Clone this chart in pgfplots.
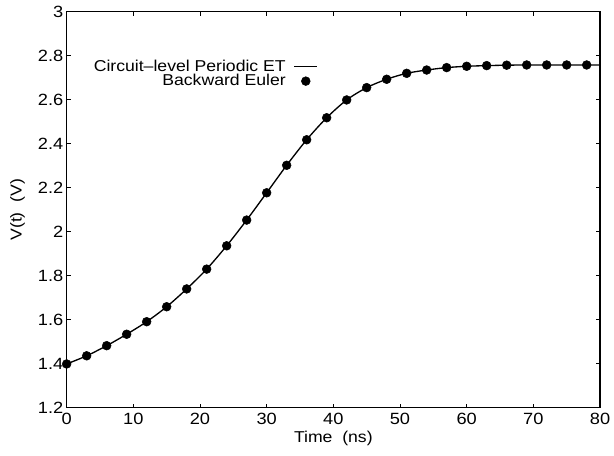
\documentclass[border=0pt]{standalone}
\usepackage{pgfplots}
\pgfplotsset{compat=1.18}
\usepackage{fontspec}
\setmainfont{Liberation Sans}[FakeStretch=1.12]
\begin{document}
\begin{tikzpicture}
\begin{axis}[
  name=ax, at={(0,0)}, anchor=south west,
  scale only axis, width=400pt, height=297pt,
  xmin=0, xmax=80, ymin=1.2, ymax=3,
  xtick={0,10,...,80}, ytick={1.2,1.4,...,3.01},
  yticklabels={1.2,1.4,1.6,1.8,2,2.2,2.4,2.6,2.8,3},
  /pgf/number format/assume math mode=true,
  tick label style={font=\fontsize{12.2}{14}\selectfont},
  label style={font=\fontsize{11.8}{13}\selectfont},
  xticklabel style={yshift=-0.5pt},
  yticklabel style={xshift=1pt},
  xlabel={Time~~(ns)}, ylabel={V(t)~~(V)},
  xlabel style={yshift=2pt}, ylabel style={yshift=3pt},
  major tick length=3pt, tick style={black, line width=0.6pt},
  axis line style={line width=0.8pt},
  legend plot pos=right,
  legend cell align=right,
  legend style={draw=none, fill=none, at={(0.479,0.893)}, anchor=north east,
    font=\fontsize{11.8}{13}\selectfont, row sep=-3pt, column sep=4pt},
]
\addplot[black, line width=1pt, smooth] coordinates {
(0,1.399)(3,1.436)(6,1.482)(9,1.534)(12,1.591)(15,1.659)(18,1.740)(21,1.830)(24,1.936)(27,2.053)(30,2.177)(33,2.302)(36,2.418)(39,2.518)(42,2.599)(45,2.655)(48,2.693)(51,2.720)(54,2.735)(57,2.746)(60,2.752)(63,2.755)(66,2.757)(69,2.758)(72,2.758)(75,2.758)(78,2.758)(80,2.758)};
\addlegendentry{Circuit–level Periodic ET}
\addplot[only marks, mark=*, mark size=3.3pt, black] coordinates {
(0,1.399)(3,1.436)(6,1.482)(9,1.534)(12,1.591)(15,1.659)(18,1.740)(21,1.830)(24,1.936)(27,2.053)(30,2.177)(33,2.302)(36,2.418)(39,2.518)(42,2.599)(45,2.655)(48,2.693)(51,2.720)(54,2.735)(57,2.746)(60,2.752)(63,2.755)(66,2.757)(69,2.758)(72,2.758)(75,2.758)(78,2.758)};
\addlegendentry{Backward Euler}
\end{axis}
\pgfresetboundingbox
\useasboundingbox (-50pt,-35.5pt) rectangle (410.5pt,305.8pt);
\end{tikzpicture}
\end{document}
